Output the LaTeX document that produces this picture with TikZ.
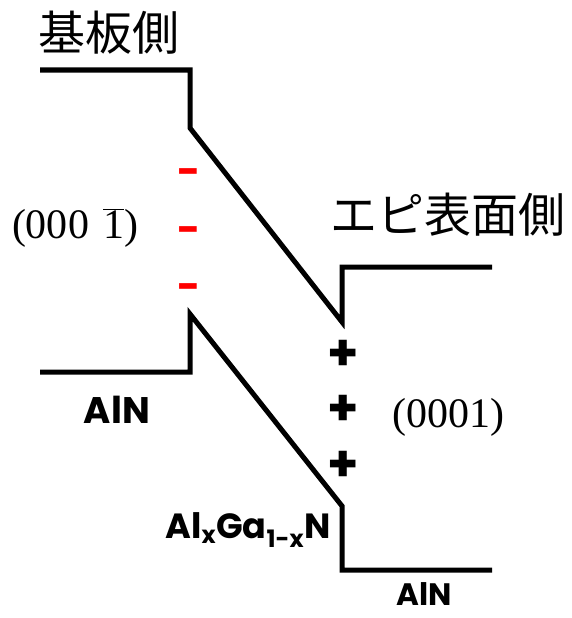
\documentclass[tikz,border=0pt]{standalone}
\usepackage{fontspec}
\setmainfont{Liberation Serif}
\newfontfamily\cjk{Noto Sans CJK JP}
\newfontfamily\geo{Poppins}
\tikzset{
  band/.style={line width=5pt},
  cjklabel/.style={font=\cjk\fontsize{47}{50}\selectfont, inner sep=0pt, anchor=west},
  plane/.style={font=\fontsize{42}{44}\selectfont, inner sep=0pt},
  mat/.style={font=\geo\bfseries\fontsize{37}{40}\selectfont, inner sep=0pt},
  negcharge/.style={font=\geo\bfseries\fontsize{40}{40}\selectfont, text=red, inner sep=0pt},
  poscharge/.style={font=\geo\bfseries\fontsize{50}{50}\selectfont, inner sep=0pt},
}
\begin{document}
\begin{tikzpicture}[x=1pt,y=-1pt]
\useasboundingbox (0,0) rectangle (572,618);
% upper band
\coordinate (u1) at (40,70);
\coordinate (u2) at (190,70);
\coordinate (u3) at (190,128);
\coordinate (u4) at (342,322);
\coordinate (u5) at (342,267);
\coordinate (u6) at (492,267);
\draw[band] (u1) -- (u2) -- (u3) -- (u4) -- (u5) -- (u6);
% lower band
\coordinate (l1) at (40,372);
\coordinate (l2) at (190,372);
\coordinate (l3) at (190,314);
\coordinate (l4) at (342,506);
\coordinate (l5) at (342,570);
\coordinate (l6) at (492,570);
\draw[band] (l1) -- (l2) -- (l3) -- (l4) -- (l5) -- (l6);
% labels
\node[cjklabel] (sub) at (38,33) {基板側};
\node[cjklabel] (epi) at (330,215) {エピ表面側};
\node[plane] (nface) at (75,228) {(000\,\,$\overline{\mbox{1}}$)};
\node[plane] (gface) at (448,417) {(0001)};
\node[mat] (aln1) at (117,410) {AlN};
\node[mat,font=\geo\bfseries\fontsize{31}{34}\selectfont] (aln2) at (424,594) {AlN};
\node[mat,font=\geo\bfseries\fontsize{35}{38}\selectfont] (algan) at (248,530) {Al$_{\mbox{\geo\bfseries\fontsize{24}{24}\selectfont x}}$Ga$_{\mbox{\geo\bfseries\fontsize{24}{24}\selectfont 1-x}}$N};
% charges
\node[negcharge] (m1) at (189,177) {-};
\node[negcharge] (m2) at (189,235) {-};
\node[negcharge] (m3) at (189,292) {-};
\node[poscharge] (p1) at (343,355) {+};
\node[poscharge] (p2) at (343,410) {+};
\node[poscharge] (p3) at (343,466) {+};
\end{tikzpicture}
\end{document}
